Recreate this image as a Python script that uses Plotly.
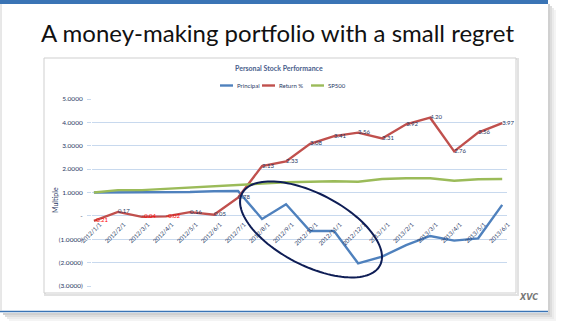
import math
import plotly.graph_objects as go

# ---- data ----
months = ["2012/1/1", "2012/2/1", "2012/3/1", "2012/4/1", "2012/5/1", "2012/6/1",
          "2012/7/1", "2012/8/1", "2012/9/1", "2012/10/1", "2012/11/1", "2012/12/1",
          "2013/1/1", "2013/2/1", "2013/3/1", "2013/4/1", "2013/5/1", "2013/6/1"]
principal = [1.00, 1.00, 1.00, 1.00, 1.02, 1.06, 1.07, -0.13, 0.50, -0.65, -0.65,
             -2.03, -1.74, -1.25, -0.86, -1.06, -0.96, 0.47]
return_pct = [-0.21, 0.17, -0.04, -0.02, 0.16, 0.05, 0.78, 2.13, 2.33, 3.08, 3.41,
              3.56, 3.31, 3.92, 4.20, 2.76, 3.56, 3.97]
sp500 = [1.00, 1.10, 1.10, 1.15, 1.20, 1.25, 1.32, 1.38, 1.44, 1.46, 1.48, 1.46,
         1.58, 1.61, 1.61, 1.50, 1.57, 1.58]
series_names = ["Principal", "Return %", "SP500"]
series_colors = ["#4F81BD", "#C0504D", "#9BBB59"]
y_ticks = [5, 4, 3, 2, 1, 0, -1, -2, -3]
y_tick_labels = ["5.0000", "4.0000", "3.0000", "2.0000", "1.0000", "-",
                 "(1.0000)", "(2.0000)", "(3.0000)"]

# ---- page geometry (pixels) ----
W, H = 565, 322
ML, MR, MT, MB = 92, 58, 99, 36
PW, PH = W - ML - MR, H - MT - MB
Y_RANGE = [-3, 5]
X_RANGE = [-0.08, 17.2]


def pxx(x):
    """pixel x -> paper x"""
    return (x - ML) / PW


def pxy(y):
    """pixel y (from top) -> paper y"""
    return (H - MB - y) / PH


FONT = "Lato"
AXIS_BLUE = "#1F3864"
GRID = "#C8D9EE"

idx = list(range(len(months)))
fig = go.Figure()

fig.add_trace(go.Scatter(x=idx, y=principal, mode="lines", name=series_names[0],
                         line=dict(color=series_colors[0], width=2.4)))
fig.add_trace(go.Scatter(x=idx, y=return_pct, mode="lines+text", name=series_names[1],
                         line=dict(color=series_colors[1], width=2.4),
                         text=[f"{v:.2f}" for v in return_pct],
                         textposition="middle right", cliponaxis=False,
                         textfont=dict(family=FONT, size=6,
                                       color=["#FF0000" if v < 0 else AXIS_BLUE
                                              for v in return_pct])))
fig.add_trace(go.Scatter(x=idx, y=sp500, mode="lines", name=series_names[2],
                         line=dict(color=series_colors[2], width=2.4)))

shapes = []
annotations = []

# slide frame: top bar, right/bottom shadow, bottom rule
for i, op in enumerate([0.35, 0.25, 0.15, 0.08]):
    shapes.append(dict(type="rect", xref="paper", yref="paper",
                       x0=pxx(548 + 2 * i), x1=pxx(550 + 2 * i),
                       y0=pxy(313 + 2 * i), y1=pxy(4 + 2 * i),
                       fillcolor=f"rgba(120,120,120,{op})", line=dict(width=0), layer="below"))
    shapes.append(dict(type="rect", xref="paper", yref="paper",
                       x0=pxx(3 + 2 * i), x1=pxx(550 + 2 * i),
                       y0=pxy(313 + 2 * i), y1=pxy(315 + 2 * i),
                       fillcolor=f"rgba(120,120,120,{op})", line=dict(width=0), layer="below"))
shapes.append(dict(type="rect", xref="paper", yref="paper",
                   x0=pxx(0), x1=pxx(548), y0=pxy(0), y1=pxy(4),
                   fillcolor="#3A74B5", line=dict(width=0), layer="below"))
shapes.append(dict(type="line", xref="paper", yref="paper",
                   x0=pxx(0), x1=pxx(548), y0=pxy(311.5), y1=pxy(311.5),
                   line=dict(color="#3A74B5", width=1.5), layer="below"))
shapes.append(dict(type="line", xref="paper", yref="paper",
                   x0=pxx(1), x1=pxx(1), y0=pxy(4), y1=pxy(311),
                   line=dict(color="#D0D0D0", width=1), layer="below"))

# chart box with soft shadow
shapes.append(dict(type="rect", xref="paper", yref="paper",
                   x0=pxx(45), x1=pxx(518), y0=pxy(295), y1=pxy(59),
                   fillcolor="rgba(0,0,0,0)", line=dict(color="#E2E2E2", width=2), layer="below"))
shapes.append(dict(type="rect", xref="paper", yref="paper",
                   x0=pxx(44), x1=pxx(516), y0=pxy(293), y1=pxy(58),
                   fillcolor="white", line=dict(color="#CFCFCF", width=1), layer="below"))

# highlight ellipse around the principal drawdown
cx, cy = 9.04, -0.58            # centre, data units
a_px, b_px, ang = 77.8, 35.9, math.radians(27.5)
sx = PW / (X_RANGE[1] - X_RANGE[0])
sy = PH / (Y_RANGE[1] - Y_RANGE[0])
pts = []
for k in range(121):
    t = 2 * math.pi * k / 120
    dx = a_px * math.cos(t) * math.cos(ang) - b_px * math.sin(t) * math.sin(ang)
    dy = a_px * math.cos(t) * math.sin(ang) + b_px * math.sin(t) * math.cos(ang)
    pts.append((cx + dx / sx, cy - dy / sy))
path = "M " + " L ".join(f"{x:.4f},{y:.4f}" for x, y in pts) + " Z"
shapes.append(dict(type="path", xref="x", yref="y", path=path,
                   line=dict(color="#0E1D55", width=2)))

# hand-drawn legend
legend_pos = [(220, 235), (262, 277), (311, 326)]
for (lx, tx), name, col in zip(legend_pos, series_names, series_colors):
    shapes.append(dict(type="line", xref="paper", yref="paper",
                       x0=pxx(lx), x1=pxx(lx + 13), y0=pxy(85.5), y1=pxy(85.5),
                       line=dict(color=col, width=2.4)))
    annotations.append(dict(xref="paper", yref="paper", x=pxx(tx), y=pxy(85.5),
                            text=name, showarrow=False, xanchor="left", yanchor="middle",
                            font=dict(family=FONT, size=6, color=AXIS_BLUE)))

# slide title, chart title, axis title, footer mark
annotations.append(dict(xref="paper", yref="paper", x=pxx(277), y=pxy(33),
                        text="A money-making portfolio with a small regret",
                        showarrow=False, xanchor="center", yanchor="middle",
                        font=dict(family=FONT, size=24, color="#111111")))
annotations.append(dict(xref="paper", yref="paper", x=pxx(279), y=pxy(68),
                        text="<b>Personal Stock Performance</b>",
                        showarrow=False, xanchor="center", yanchor="middle",
                        font=dict(family=FONT, size=7, color="#4A5E8C")))
annotations.append(dict(xref="paper", yref="paper", x=pxx(55), y=pxy(200),
                        text="Multiple", textangle=-90,
                        showarrow=False, xanchor="center", yanchor="middle",
                        font=dict(family=FONT, size=7, color=AXIS_BLUE)))
annotations.append(dict(xref="paper", yref="paper", x=pxx(528), y=pxy(297),
                        text="<b><i>XVC</i></b>",
                        showarrow=False, xanchor="center", yanchor="middle",
                        font=dict(family="DejaVu Sans", size=8, color="#777777")))

fig.update_layout(
    width=W, height=H, autosize=False,
    margin=dict(l=ML, r=MR, t=MT, b=MB, pad=0),
    paper_bgcolor="white", plot_bgcolor="white",
    showlegend=False,
    shapes=shapes, annotations=annotations,
    xaxis=dict(range=X_RANGE, tickmode="array", tickvals=idx, ticktext=months,
               tickangle=-45, anchor="free",
               position=(0 - Y_RANGE[0]) / (Y_RANGE[1] - Y_RANGE[0]),
               showgrid=False, zeroline=False, showline=False, ticks="",
               ticklabelshift=6, ticklabelstandoff=3,
               tickfont=dict(family=FONT, size=6, color=AXIS_BLUE)),
    yaxis=dict(range=Y_RANGE, tickmode="array", tickvals=y_ticks, ticktext=y_tick_labels,
               showgrid=True, gridcolor=GRID, gridwidth=1, zeroline=False, showline=False,
               ticks="outside", ticklen=4, tickcolor=GRID, ticklabelstandoff=3,
               tickfont=dict(family=FONT, size=6.5, color=AXIS_BLUE)),
)

fig.write_html("out.html")
